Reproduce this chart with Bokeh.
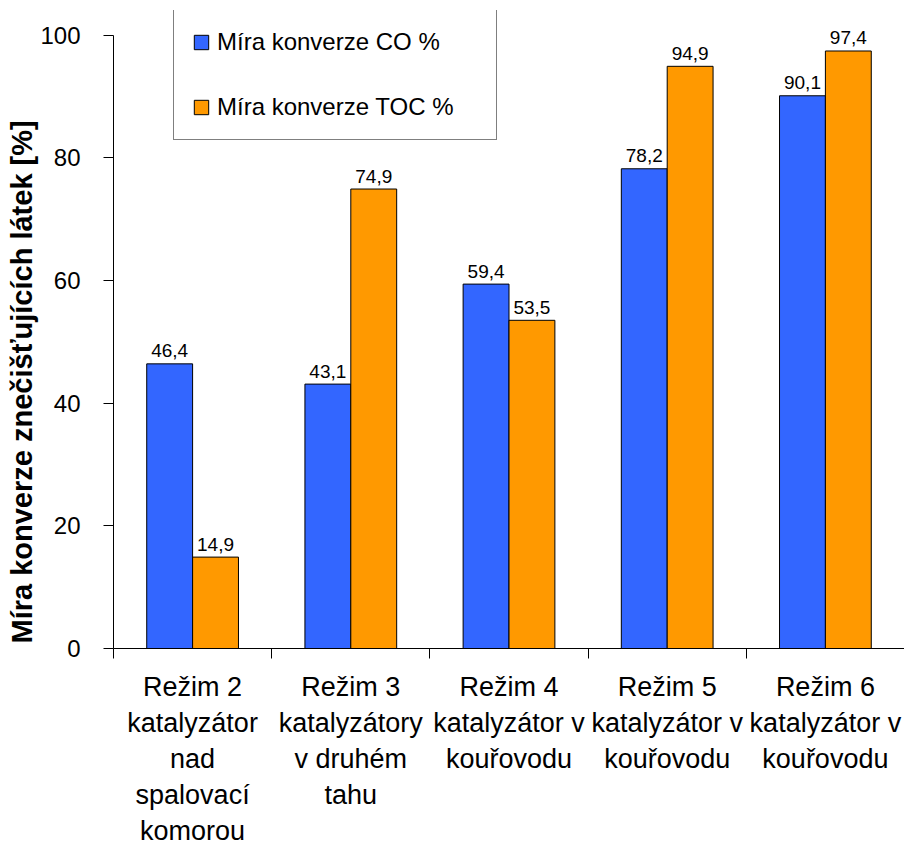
import numpy as np
from bokeh.plotting import figure
from bokeh.models import Range1d, FixedTicker, Legend, LegendItem, Title
from bokeh.core.properties import value
from bokeh.embed import file_html
from bokeh.resources import INLINE

# ---- data ----
categories = [
    "Režim 2\nkatalyzátor\nnad\nspalovací\nkomorou",
    "Režim 3\nkatalyzátory\nv druhém\ntahu",
    "Režim 4\nkatalyzátor v\nkouřovodu",
    "Režim 5\nkatalyzátor v\nkouřovodu",
    "Režim 6\nkatalyzátor v\nkouřovodu",
]
co_values = [46.4, 43.1, 59.4, 78.2, 90.1]
toc_values = [14.9, 74.9, 53.5, 94.9, 97.4]
series_names = ["Míra konverze CO %", "Míra konverze TOC %"]
y_ticks = [0, 20, 40, 60, 80, 100]
y_title = "Míra konverze znečišťujících látek [%]"

FONT = "Liberation Sans"
BLUE = "#3366FF"
ORANGE = "#FF9900"

n = len(categories)
idx = np.arange(n)
centers = idx + 0.5
bw = 0.29

p = figure(width=904, height=849, output_backend="svg", toolbar_location=None,
           x_range=Range1d(0, n), y_range=Range1d(0, 104),
           min_border_left=113, min_border_top=10, min_border_bottom=201,
           min_border_right=0)
p.outline_line_color = None
p.xgrid.visible = False
p.ygrid.visible = False

r_co = p.vbar(x=centers - bw / 2, top=co_values, bottom=0, width=bw,
              fill_color=BLUE, line_color="black", line_width=1)
r_toc = p.vbar(x=centers + bw / 2, top=toc_values, bottom=0, width=bw,
               fill_color=ORANGE, line_color="black", line_width=1)

fmt = lambda v: f"{v:.1f}".replace(".", ",")
for xs, vals in ((centers - bw / 2, co_values), (centers + bw / 2, toc_values)):
    p.text(x=list(xs), y=vals, text=[fmt(v) for v in vals],
           text_font=value(FONT), text_font_size="19px", text_color="black",
           text_align="center", text_baseline="alphabetic", y_offset=-13)

# x axis: labels at group centres, ticks at group boundaries
xa = p.xaxis[0]
xa.ticker = FixedTicker(ticks=list(centers), minor_ticks=[float(i) for i in range(n + 1)])
xa.major_label_overrides = {float(c): lab for c, lab in zip(centers, categories)}
xa.major_tick_line_color = None
xa.major_tick_out = 10
xa.major_tick_in = 0
xa.minor_tick_line_color = "black"
xa.minor_tick_out = 10
xa.minor_tick_in = 0
xa.axis_line_color = "black"
xa.major_label_text_font = FONT
xa.major_label_text_font_size = "27px"
xa.major_label_text_color = "black"
xa.major_label_text_line_height = 1.2
xa.major_label_standoff = 13

ya = p.yaxis[0]
ya.ticker = FixedTicker(ticks=y_ticks, minor_ticks=[])
ya.bounds = (0, 100)
ya.major_tick_out = 10
ya.major_tick_in = 0
ya.major_tick_line_color = "black"
ya.minor_tick_line_color = None
ya.axis_line_color = "black"
ya.major_label_text_font = FONT
ya.major_label_text_font_size = "24px"
ya.major_label_text_color = "black"
ya.major_label_standoff = 23

title = Title(text=y_title, align="left", offset=5,
              text_font=FONT, text_font_size="29px", text_font_style="bold",
              text_color="black", standoff=0)
p.add_layout(title, "left")

legend = Legend(items=[LegendItem(label=series_names[0], renderers=[r_co]),
                       LegendItem(label=series_names[1], renderers=[r_toc])],
                location=(60, 508), orientation="vertical",
                label_text_font=FONT, label_text_font_size="24px",
                label_text_color="black",
                glyph_width=18, glyph_height=18, label_standoff=7,
                label_height=22, label_width=261, padding=18, spacing=37,
                border_line_color="black", border_line_width=1,
                background_fill_color="white", background_fill_alpha=1.0)
p.add_layout(legend)

open("out.html", "w").write(file_html(p, INLINE))
